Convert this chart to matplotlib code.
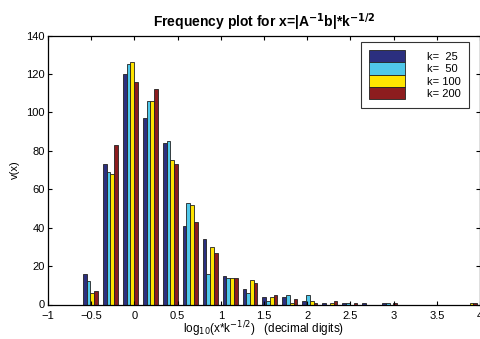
import numpy as np
import matplotlib.pyplot as plt

plt.rcParams['font.family'] = ['Liberation Sans', 'DejaVu Sans']

# bin centres of the histogram (log10 of scaled error)
bin_centers = [-0.509, -0.278, -0.047, 0.184, 0.415, 0.646, 0.876, 1.107,
               1.338, 1.569, 1.800, 2.031, 2.262, 2.493, 2.724, 2.955,
               3.186, 3.417, 3.648, 3.879]

# counts per bin for each k
counts_k25 = [16, 73, 120, 97, 84, 41, 34, 15, 8, 4, 4, 2, 1, 1, 1, 1, 0, 0, 0, 0]
counts_k50 = [12, 69, 125, 106, 85, 53, 16, 14, 6, 2, 5, 5, 0, 1, 0, 1, 0, 0, 0, 0]
counts_k100 = [6, 68, 126, 106, 75, 52, 30, 14, 13, 4, 1, 2, 1, 0, 0, 0, 0, 0, 0, 1]
counts_k200 = [7, 83, 116, 112, 73, 43, 27, 14, 11, 5, 3, 1, 2, 1, 0, 1, 0, 0, 0, 1]

series = [counts_k25, counts_k50, counts_k100, counts_k200]
labels = ['k=  25', 'k=  50', 'k= 100', 'k= 200']
colors = ['#2b2f7f', '#50c8ea', '#ffe400', '#8d1c1e']
xtick_vals = [-1, -0.5, 0, 0.5, 1, 1.5, 2, 2.5, 3, 3.5, 4]

fig = plt.figure(figsize=(4.8, 3.39), dpi=100)
ax = fig.add_axes([48 / 480, 1 - 304.5 / 339, 432 / 480, (304.5 - 35.5) / 339])

x = np.array(bin_centers)
w = 0.0433
for i, (vals, lab, col) in enumerate(zip(series, labels, colors)):
    ax.bar(x + (i - 1.5) * w, vals, width=w, color=col, edgecolor='#222222',
           linewidth=0.6, label=lab)

ax.set_xlim(-1, 4)
ax.set_ylim(0, 140)
ax.set_xticks(xtick_vals)
ax.set_xticklabels([('%g' % v).replace('-', '\u2212') for v in xtick_vals])
ax.set_yticks(np.arange(0, 141, 20))
ax.tick_params(direction='in', top=True, right=True, labelsize=8, length=3, width=0.8, pad=2.5)
ax.tick_params(axis='x', pad=4.5)
for s in ax.spines.values():
    s.set_linewidth(0.9)

ax.set_title(r'Frequency plot for x=|A$^{\mathbf{-1}}$b|*k$^{\mathbf{-1/2}}$',
             fontsize=10, fontweight='bold', pad=6)
ax.set_xlabel(r'log$_{10}$(x*k$^{-1/2}$)   (decimal digits)', fontsize=8.5, labelpad=-1)
ax.set_ylabel('v(x)', fontsize=8, labelpad=4)

leg = ax.legend(loc='upper right', bbox_to_anchor=(0.98, 0.985), fontsize=8,
                frameon=True, fancybox=False, edgecolor='black', handlelength=3.2,
                handleheight=1.3, handletextpad=2.0, labelspacing=0.02,
                borderpad=0.75, borderaxespad=0.2)
leg.get_frame().set_linewidth(0.8)

fig.savefig('out.png', dpi=100)
